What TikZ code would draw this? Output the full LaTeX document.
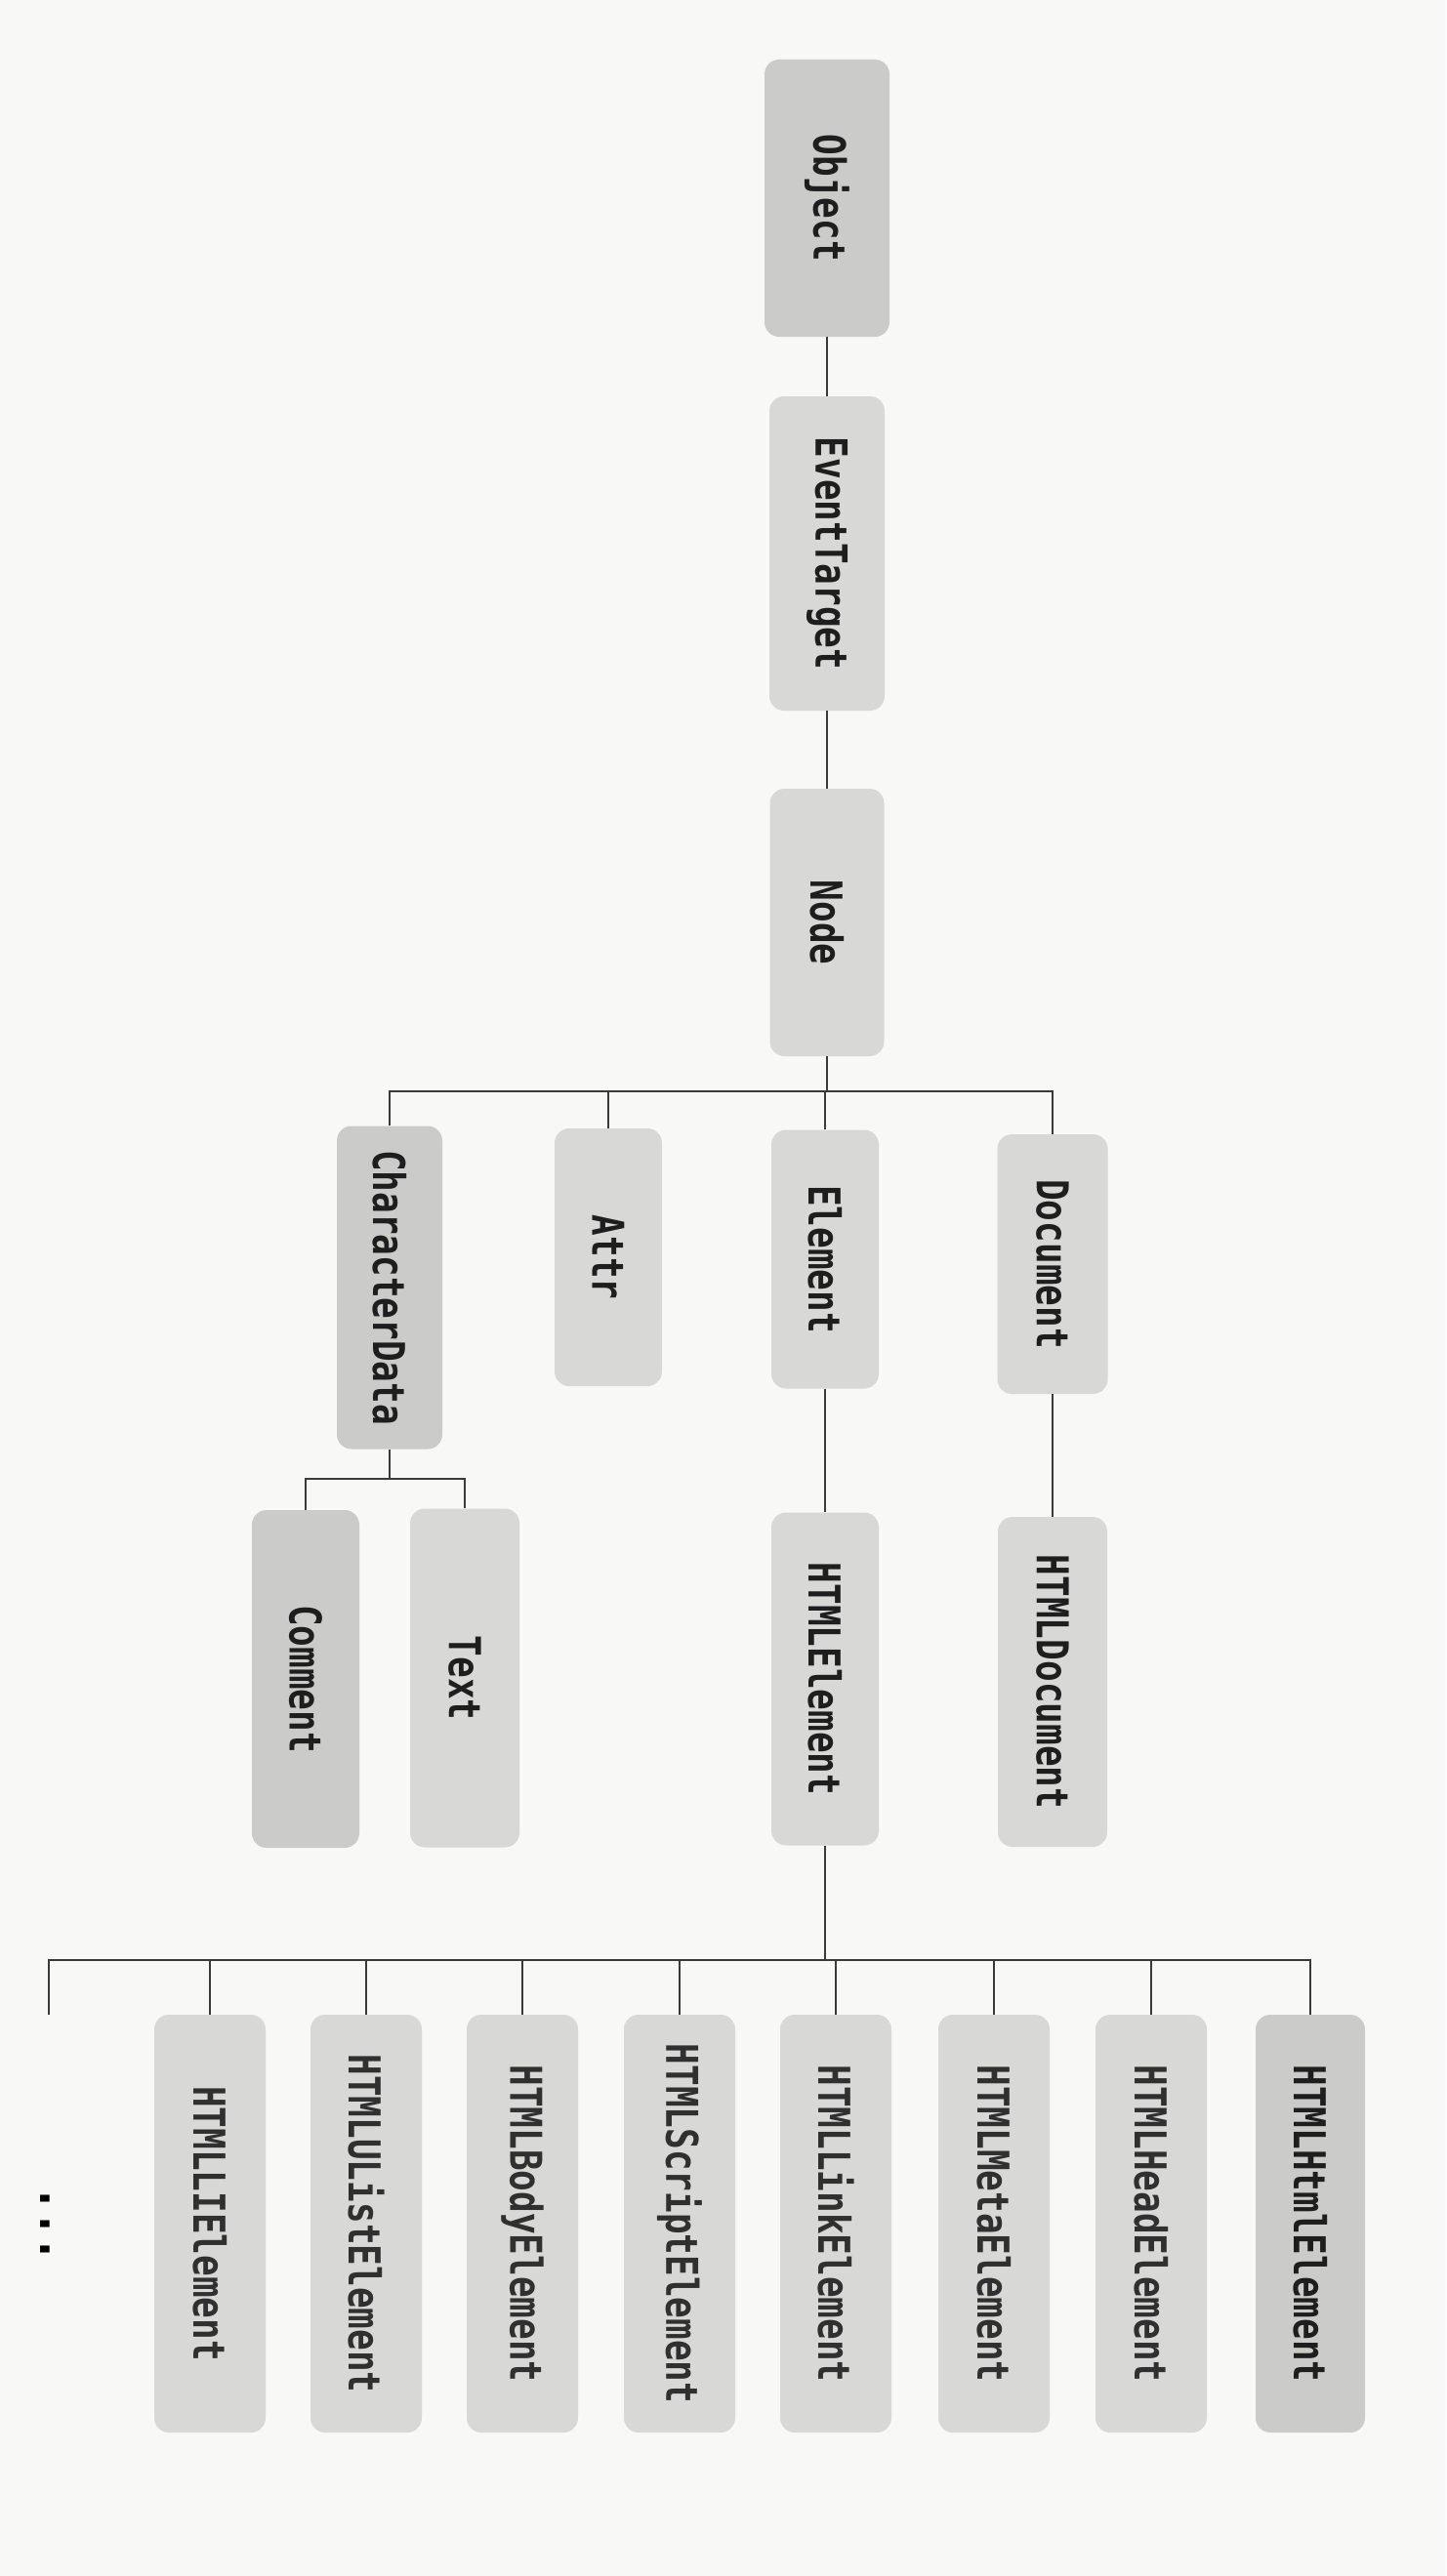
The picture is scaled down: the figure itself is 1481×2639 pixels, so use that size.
\documentclass[tikz,border=0pt]{standalone}
\usepackage{fontspec}
\newfontfamily\codefont[FakeStretch=0.8]{DejaVu Sans Mono}
\definecolor{pagebg}{HTML}{F8F8F7}
\definecolor{boxa}{HTML}{D8D8D7}
\definecolor{boxb}{HTML}{CBCBCA}
\definecolor{inkc}{HTML}{1E1E1E}
\definecolor{inkl}{HTML}{303030}
\definecolor{linec}{HTML}{3A3A3A}
\tikzset{
  cls/.style={fill=boxa, draw=none, rounded corners=15pt, inner sep=0pt,
    text=inkc, font=\codefont\bfseries\fontsize{45}{50}\selectfont},
  dark/.style={fill=boxb},
  lowrow/.style={cls, text=inkl, minimum width=114pt, minimum height=428pt},
  conn/.style={draw=linec, line width=1.8pt},
}
\newcommand{\vtext}[1]{\rotatebox[origin=c]{-90}{#1}}
\begin{document}
\begin{tikzpicture}[x=1pt,y=-1pt]
\fill[pagebg] (0,0) rectangle (1481,2639);
\useasboundingbox (0,0) rectangle (1481,2639);

% top chain
\node[cls, dark, minimum width=128pt, minimum height=284pt] (object) at (847,203) {\vtext{Object}};
\node[cls, minimum width=118pt, minimum height=322pt] (event) at (847,567) {\vtext{EventTarget}};
\node[cls, minimum width=117pt, minimum height=274pt] (nodebox) at (847,945) {\vtext{Node}};

% second level
\node[cls, dark, minimum width=108pt, minimum height=331pt] (chardata) at (399,1319) {\vtext{CharacterData}};
\node[cls, minimum width=110pt, minimum height=264pt] (attr) at (623,1288) {\vtext{Attr}};
\node[cls, minimum width=110pt, minimum height=265pt] (element) at (845,1290) {\vtext{Element}};
\node[cls, minimum width=113pt, minimum height=266pt] (document) at (1078,1295) {\vtext{Document}};

% third level
\node[cls, dark, minimum width=110pt, minimum height=346pt] (comment) at (313,1720) {\vtext{Comment}};
\node[cls, minimum width=112pt, minimum height=347pt] (textbox) at (476,1719) {\vtext{Text}};
\node[cls, minimum width=110pt, minimum height=341pt] (htmlelement) at (845,1720) {\vtext{HTMLElement}};
\node[cls, minimum width=112pt, minimum height=338pt] (htmldocument) at (1078,1723) {\vtext{HTMLDocument}};

% bottom row
\node[lowrow] (li) at (215,2278) {\vtext{HTMLLIElement}};
\node[lowrow] (ulist) at (375,2278) {\vtext{HTMLUListElement}};
\node[lowrow] (body) at (535,2278) {\vtext{HTMLBodyElement}};
\node[lowrow] (script) at (696,2278) {\vtext{HTMLScriptElement}};
\node[lowrow] (link) at (856,2278) {\vtext{HTMLLinkElement}};
\node[lowrow] (meta) at (1018,2278) {\vtext{HTMLMetaElement}};
\node[lowrow] (head) at (1179,2278) {\vtext{HTMLHeadElement}};
\node[lowrow, dark, text=inkc, minimum width=112pt] (html) at (1342,2278) {\vtext{HTMLHtmlElement}};

\node[text=black, inner sep=0pt, font=\codefont\bfseries\fontsize{54}{60}\selectfont] (dots) at (46,2278) {\vtext{...}};

% connectors
\draw[conn] (object.south) -- (event.north);
\draw[conn] (event.south) -- (nodebox.north);

\coordinate (bus1) at (847,1118);
\draw[conn] (nodebox.south) -- (bus1);
\draw[conn] (chardata.north) -- (chardata.north |- bus1) -- (document.north |- bus1) -- (document.north);
\draw[conn] (attr.north) -- (attr.north |- bus1);
\draw[conn] (element.north) -- (element.north |- bus1);

\coordinate (bus2) at (399,1515);
\draw[conn] (chardata.south) -- (bus2);
\draw[conn] (comment.north) -- (comment.north |- bus2) -- (textbox.north |- bus2) -- (textbox.north);

\draw[conn] (element.south) -- (htmlelement.north);
\draw[conn] (document.south) -- (htmldocument.north);

\coordinate (bus3) at (845,2008);
\coordinate (more) at (50,2064);
\draw[conn] (htmlelement.south) -- (bus3);
\draw[conn] (more) -- (more |- bus3) -- (html.north |- bus3) -- (html.north);
\foreach \n in {li,ulist,body,script,link,meta,head}
  \draw[conn] (\n.north) -- (\n.north |- bus3);
\end{tikzpicture}
\end{document}
